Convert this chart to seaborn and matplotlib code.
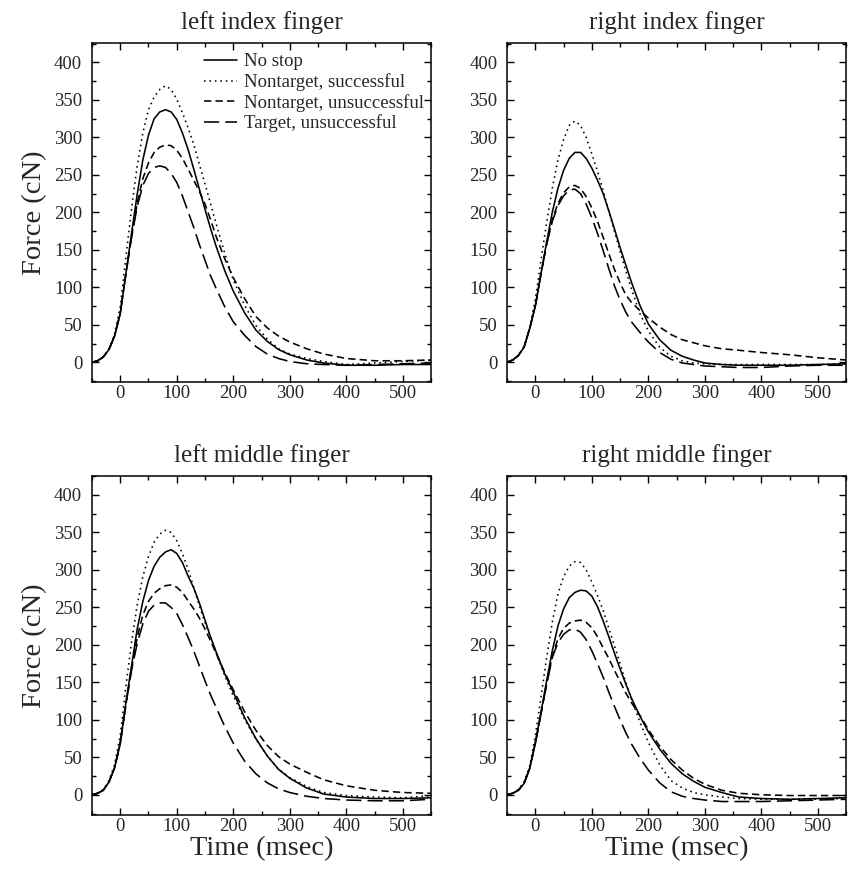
import numpy as np
import pandas as pd
import matplotlib
matplotlib.use("Agg")
import matplotlib.pyplot as plt
from matplotlib.ticker import MultipleLocator
import seaborn as sns

# time axis (msec), common to all panels
time_ms = [-50, -40, -30, -20, -10, 0, 10, 20, 30, 40, 50, 60, 70, 80, 90,
           100, 110, 120, 130, 140, 150, 160, 170, 185, 200, 220, 240, 260,
           280, 300, 330, 360, 400, 450, 500, 550]

conditions = ["No stop", "Nontarget, successful",
              "Nontarget, unsuccessful", "Target, unsuccessful"]
panels = ["left index finger", "right index finger",
          "left middle finger", "right middle finger"]

# force (cN)
li_nostop = [0, 2, 7, 17, 35, 65, 118, 172, 224, 270, 303, 325, 334, 337, 334,
             324, 306, 284, 258, 231, 204, 178, 154, 122, 95, 66, 43, 28,
             17, 10, 3, -1, -4, -4, -3, -3]
li_nt_succ = [0, 2, 7, 18, 38, 74, 140, 205, 262, 306, 337, 354, 364, 369, 364,
              351, 333, 313, 291, 264, 238, 211, 184, 145, 110, 76, 49, 31,
              18, 11, 5, 1, -3, -1, 1, 3]
li_nt_unsucc = [0, 2, 7, 17, 35, 65, 118, 168, 212, 245, 266, 280, 287, 290, 289,
                283, 272, 258, 243, 228, 211, 190, 167, 138, 113, 85, 61, 46,
                35, 27, 18, 11, 5, 2, 2, 3]
li_t_unsucc = [0, 2, 7, 17, 35, 65, 118, 166, 208, 236, 252, 260, 262, 260, 252,
               240, 222, 201, 180, 157, 136, 115, 98, 74, 54, 36, 21, 11,
               5, 1, -2, -3, -4, -3, -2, -1]

ri_nostop = [0, 3, 9, 20, 45, 75, 118, 160, 200, 232, 256, 272, 280, 280, 272,
             259, 243, 225, 202, 178, 153, 130, 107, 76, 51, 30, 16, 8,
             3, -1, -3, -4, -4, -4, -3, -2]
ri_nt_succ = [0, 3, 9, 21, 46, 84, 136, 186, 232, 270, 297, 316, 322, 316, 300,
              278, 255, 229, 202, 175, 148, 122, 98, 65, 42, 20, 8, 2,
              -1, -2, -3, -3, -3, -3, -3, -2]
ri_nt_unsucc = [0, 3, 9, 20, 45, 75, 118, 158, 190, 212, 226, 234, 236, 232, 221,
                206, 188, 167, 145, 124, 106, 90, 80, 69, 59, 47, 37, 30,
                26, 22, 18, 16, 13, 10, 6, 3]
ri_t_unsucc = [0, 3, 9, 20, 45, 75, 118, 157, 188, 209, 222, 230, 231, 225, 211,
               193, 172, 149, 125, 102, 83, 67, 54, 40, 27, 13, 4, -1,
               -3, -5, -6, -7, -7, -5, -4, -4]

lm_nostop = [0, 2, 6, 17, 36, 70, 123, 172, 221, 258, 286, 305, 317, 324, 327,
             322, 310, 292, 276, 256, 233, 210, 190, 161, 137, 103, 75, 52,
             34, 22, 9, 1, -3, -5, -5, -4]
lm_nt_succ = [0, 2, 7, 19, 40, 79, 145, 203, 253, 291, 318, 337, 348, 353, 350,
              339, 322, 301, 277, 252, 230, 210, 189, 159, 132, 101, 74, 52,
              34, 23, 11, 3, -1, -3, -4, -1]
lm_nt_unsucc = [0, 2, 6, 17, 36, 68, 120, 168, 210, 240, 258, 269, 275, 279, 280,
                277, 270, 259, 248, 236, 221, 205, 188, 163, 140, 111, 86, 66,
                51, 41, 30, 20, 12, 6, 3, 2]
lm_t_unsucc = [0, 2, 6, 17, 36, 68, 120, 166, 202, 228, 245, 253, 256, 256, 250,
               242, 227, 210, 192, 172, 152, 133, 116, 91, 69, 45, 28, 16,
               8, 3, -2, -5, -7, -8, -8, -6]

rm_nostop = [0, 2, 6, 15, 35, 70, 110, 152, 192, 225, 248, 263, 270, 273, 272,
             265, 251, 232, 211, 189, 168, 148, 129, 105, 84, 61, 42, 28,
             18, 10, 3, -3, -5, -6, -5, -4]
rm_nt_succ = [0, 2, 7, 17, 38, 79, 130, 183, 230, 268, 291, 305, 311, 310, 300,
              284, 266, 246, 222, 199, 175, 150, 128, 97, 70, 40, 19, 9,
              3, 0, -3, -5, -6, -6, -6, -5]
rm_nt_unsucc = [0, 2, 6, 15, 35, 68, 108, 148, 185, 208, 222, 229, 232, 233, 230,
                223, 211, 196, 182, 166, 151, 136, 123, 106, 87, 65, 47, 33,
                22, 14, 6, 2, 0, -1, -1, -1]
rm_t_unsucc = [0, 2, 6, 15, 35, 68, 108, 147, 183, 203, 214, 220, 221, 217, 207,
               192, 175, 157, 137, 118, 100, 83, 68, 49, 33, 16, 4, -2,
               -5, -7, -9, -9, -9, -8, -7, -6]

series = {
    "left index finger": [li_nostop, li_nt_succ, li_nt_unsucc, li_t_unsucc],
    "right index finger": [ri_nostop, ri_nt_succ, ri_nt_unsucc, ri_t_unsucc],
    "left middle finger": [lm_nostop, lm_nt_succ, lm_nt_unsucc, lm_t_unsucc],
    "right middle finger": [rm_nostop, rm_nt_succ, rm_nt_unsucc, rm_t_unsucc],
}

rows = []
for p in panels:
    for c, vals in zip(conditions, series[p]):
        for t, v in zip(time_ms, vals):
            rows.append((p, c, t, v))
df = pd.DataFrame(rows, columns=["panel", "condition", "time", "force"])

sns.set_theme(style="ticks")
plt.rcParams["font.family"] = ["Liberation Serif", "DejaVu Serif"]
plt.rcParams["axes.linewidth"] = 1.1

styles = {
    "No stop": "-",
    "Nontarget, successful": (0, (1, 2.4)),
    "Nontarget, unsuccessful": (0, (4.6, 2.6)),
    "Target, unsuccessful": (0, (9.5, 3.8)),
}

fig, axes = plt.subplots(2, 2, figsize=(8.5, 8.81), dpi=100)
fig.subplots_adjust(left=0.1082, right=0.9955, top=0.9512, bottom=0.0749,
                    wspace=0.224, hspace=0.274)

for ax, p in zip(axes.flat, panels):
    sub = df[df["panel"] == p]
    for c in conditions:
        d = sub[sub["condition"] == c]
        sns.lineplot(data=d, x="time", y="force", ax=ax, color="black",
                     linewidth=1.15, linestyle=styles[c], label=c,
                     legend=False)
    ax.set_xlim(-50, 550)
    ax.set_ylim(-27, 426)
    ax.xaxis.set_major_locator(MultipleLocator(100))
    ax.xaxis.set_minor_locator(MultipleLocator(50))
    ax.yaxis.set_major_locator(MultipleLocator(50))
    ax.yaxis.set_minor_locator(MultipleLocator(25))
    ax.tick_params(which="both", direction="in", top=True, right=True,
                   labelsize=13.5, width=1.0, color="black")
    ax.tick_params(which="major", length=5)
    ax.tick_params(which="minor", length=2.8)
    ax.tick_params(axis="y", which="major", pad=7)
    ax.tick_params(axis="x", which="major", pad=2)
    for s in ax.spines.values():
        s.set_visible(True)
        s.set_color("black")
    ax.set_title(p, fontsize=18, pad=10)
    ax.set_xlabel("")
    ax.set_ylabel("")

for ax in axes[:, 0]:
    ax.set_ylabel("Force (cN)", fontsize=20.5, labelpad=5)
for ax in axes[1, :]:
    ax.set_xlabel("Time (msec)", fontsize=20.5, labelpad=1)

axes[0, 0].legend(loc="upper right", frameon=False, fontsize=13.5,
                  handlelength=1.75, handletextpad=0.4, labelspacing=0.15,
                  borderaxespad=0.15, bbox_to_anchor=(1.01, 1.0))

fig.savefig("out.png", dpi=100, facecolor="white")
